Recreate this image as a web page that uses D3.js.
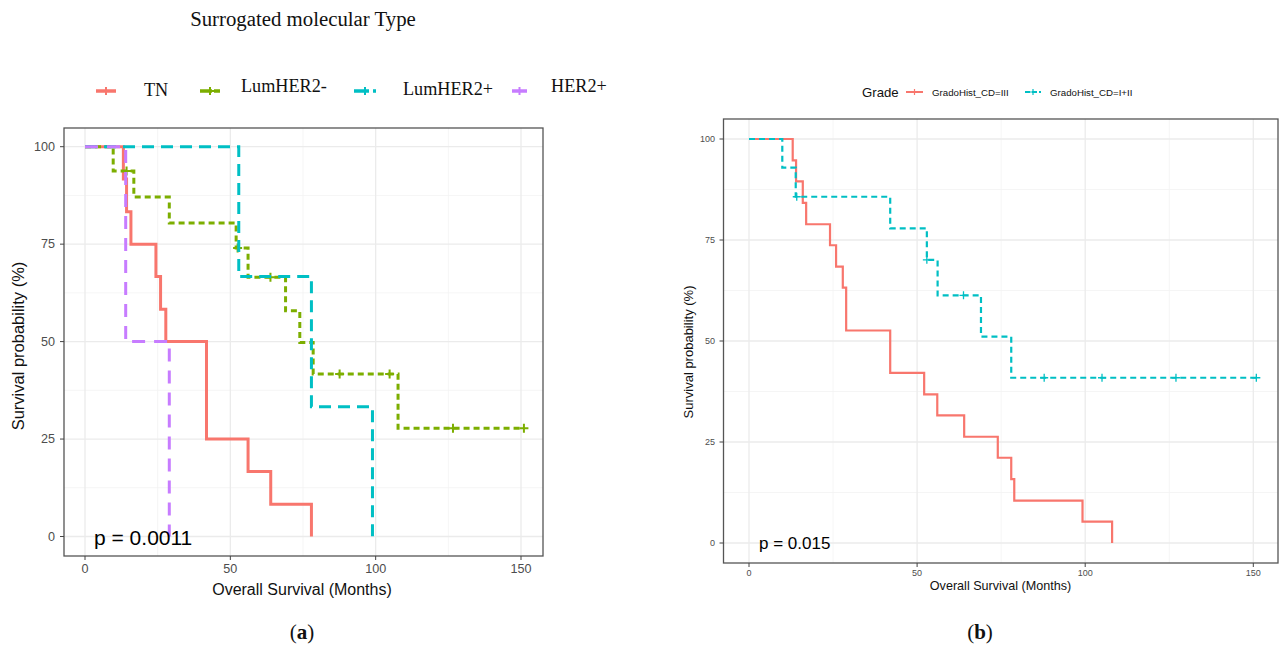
<!DOCTYPE html>
<html><head><meta charset="utf-8">
<script src="https://cdn.jsdelivr.net/npm/d3@7"></script>
<style>body{margin:0;background:#fff}svg{display:block}</style>
</head><body>
<svg id="c" width="1280" height="645"></svg>
<script>
// ---------- Panel (a) data ----------
const aGroups = ["TN", "LumHER2-", "LumHER2+", "HER2+"];
const tnTime = [0, 13.2, 14.3, 15.8, 24.4, 26.0, 27.8, 41.8, 56.1, 63.9, 77.9];
const tnSurv = [100, 91.7, 83.3, 75.0, 66.7, 58.3, 50.0, 25.0, 16.7, 8.3, 0];
const lumNegTime = [0, 9.7, 16.8, 29.0, 52.0, 56.1, 69.0, 73.9, 78.5, 107.7, 151];
const lumNegSurv = [100, 93.75, 87.1, 80.4, 74.0, 66.5, 57.9, 49.8, 41.7, 27.8, 27.8];
const lumNegCensT = [14.3, 52.5, 63.8, 87.6, 104.8, 126.6, 151];
const lumNegCensS = [93.75, 74.0, 66.5, 41.7, 41.7, 27.8, 27.8];
const lumPosTime = [0, 52.9, 77.9, 98.9];
const lumPosSurv = [100, 66.7, 33.3, 0];
const her2Time = [0, 14.0, 29.0];
const her2Surv = [100, 50, 0];
const aTicksX = [0, 50, 100, 150];
const aTicksY = [0, 25, 50, 75, 100];

// ---------- Panel (b) data ----------
const bGroups = ["GradoHist_CD=III", "GradoHist_CD=I+II"];
const g3Time = [0, 13, 14, 16, 17, 24.1, 25.9, 27.9, 28.9, 42, 52.1, 56, 64, 74, 78, 78.9, 99.2, 108];
const g3Surv = [100, 94.7, 89.5, 84.2, 78.9, 73.7, 68.4, 63.2, 52.6, 42.1, 36.8, 31.6, 26.3, 21.1, 15.8, 10.5, 5.3, 0];
const g12Time = [0, 9.9, 13.9, 42, 52.9, 56.1, 69, 78, 150.9];
const g12Surv = [100, 92.9, 85.7, 77.9, 70.1, 61.3, 51.1, 40.9, 40.9];
const g12CensT = [14.2, 52.9, 63.8, 87.8, 105, 127, 150.9];
const g12CensS = [85.7, 70.1, 61.3, 40.9, 40.9, 40.9, 40.9];
const bTicksX = [0, 50, 100, 150];
const bTicksY = [0, 25, 50, 75, 100];

const svg = d3.select("#c");
const SANS = "'Liberation Sans', Arial, sans-serif";
const SERIF = "'Liberation Serif', 'Times New Roman', serif";
const zip = (t, s) => t.map((d, i) => ({t: d, s: s[i]}));

function panel(cfg) {
  const x = d3.scaleLinear().domain([0, 150]).range(cfg.xr);
  const y = d3.scaleLinear().domain([0, 100]).range(cfg.yr);
  const g = svg.append("g");
  const [L, R, T, B] = cfg.box;
  const minorX = [25, 75, 125], minorY = [12.5, 37.5, 62.5, 87.5];
  g.selectAll(null).data(minorX).enter().append("line")
    .attr("x1", d => x(d)).attr("x2", d => x(d)).attr("y1", T).attr("y2", B)
    .attr("stroke", "#F2F2F2").attr("stroke-width", 0.8);
  g.selectAll(null).data(minorY).enter().append("line")
    .attr("y1", d => y(d)).attr("y2", d => y(d)).attr("x1", L).attr("x2", R)
    .attr("stroke", "#F2F2F2").attr("stroke-width", 0.8);
  g.selectAll(null).data(cfg.tx).enter().append("line")
    .attr("x1", d => x(d)).attr("x2", d => x(d)).attr("y1", T).attr("y2", B)
    .attr("stroke", "#EBEBEB").attr("stroke-width", 1.3);
  g.selectAll(null).data(cfg.ty).enter().append("line")
    .attr("y1", d => y(d)).attr("y2", d => y(d)).attr("x1", L).attr("x2", R)
    .attr("stroke", "#EBEBEB").attr("stroke-width", 1.3);
  const line = d3.line().x(d => x(d.t)).y(d => y(d.s)).curve(d3.curveStepAfter);
  cfg.series.forEach(sr => {
    g.append("path").attr("d", line(zip(sr.t, sr.s)))
      .attr("fill", "none").attr("stroke", sr.color).attr("stroke-width", cfg.lw)
      .attr("stroke-dasharray", sr.dash || null);
    if (sr.ct) {
      const cs = cfg.cross;
      zip(sr.ct, sr.cs).forEach(p => {
        g.append("path")
          .attr("d", `M${x(p.t) - cs},${y(p.s)}H${x(p.t) + cs}M${x(p.t)},${y(p.s) - cs}V${y(p.s) + cs}`)
          .attr("stroke", sr.color).attr("stroke-width", cfg.clw).attr("fill", "none");
      });
    }
  });
  g.append("rect").attr("x", L).attr("y", T).attr("width", R - L).attr("height", B - T)
    .attr("fill", "none").attr("stroke", "#555").attr("stroke-width", 1.3);
  g.selectAll(null).data(cfg.tx).enter().append("line")
    .attr("x1", d => x(d)).attr("x2", d => x(d)).attr("y1", B).attr("y2", B + 4)
    .attr("stroke", "#444").attr("stroke-width", 1);
  g.selectAll(null).data(cfg.ty).enter().append("line")
    .attr("y1", d => y(d)).attr("y2", d => y(d)).attr("x1", L - 4).attr("x2", L)
    .attr("stroke", "#444").attr("stroke-width", 1);
  g.selectAll(null).data(cfg.tx).enter().append("text")
    .attr("x", d => x(d)).attr("y", cfg.xly).attr("text-anchor", "middle")
    .attr("dominant-baseline", "central").attr("font-family", SANS)
    .attr("font-size", cfg.tfs).attr("fill", "#4D4D4D").text(d => d);
  g.selectAll(null).data(cfg.ty).enter().append("text")
    .attr("x", cfg.ylx).attr("y", d => y(d)).attr("text-anchor", "end")
    .attr("dominant-baseline", "central").attr("font-family", SANS)
    .attr("font-size", cfg.tfs).attr("fill", "#4D4D4D").text(d => d);
  g.append("text").attr("x", cfg.xt[0]).attr("y", cfg.xt[1]).attr("text-anchor", "middle")
    .attr("dominant-baseline", "central").attr("font-family", SANS).attr("font-size", cfg.afs)
    .attr("fill", "#111").text("Overall Survival (Months)");
  g.append("text").attr("transform", `translate(${cfg.yt[0]},${cfg.yt[1]}) rotate(-90)`)
    .attr("text-anchor", "middle").attr("dominant-baseline", "central")
    .attr("font-family", SANS).attr("font-size", cfg.yafs).attr("fill", "#111")
    .text("Survival probability (%)");
  g.append("text").attr("x", cfg.p[0]).attr("y", cfg.p[1]).attr("dominant-baseline", "central")
    .attr("font-family", SANS).attr("font-size", cfg.pfs).attr("fill", "#000").text(cfg.ptxt);
  return {x, y};
}

const colA = {"TN": "#F8766D", "LumHER2-": "#7CAE00", "LumHER2+": "#00BFC4", "HER2+": "#C77CFF"};
const dashA = {"TN": null, "LumHER2-": "6,4", "LumHER2+": "12,7", "HER2+": "13,9"};

panel({
  xr: [85, 521], yr: [536.5, 146.7], box: [64, 543, 128, 556],
  tx: aTicksX, ty: aTicksY, lw: 3, cross: 4.5, clw: 2,
  xly: 569, ylx: 55, tfs: 12.6, afs: 16, yafs: 16.5,
  xt: [302, 589], yt: [18, 346], p: [94, 537], pfs: 21, ptxt: "p = 0.0011",
  series: [
    {t: tnTime, s: tnSurv, color: colA["TN"], dash: dashA["TN"]},
    {t: lumNegTime, s: lumNegSurv, color: colA["LumHER2-"], dash: dashA["LumHER2-"], ct: lumNegCensT, cs: lumNegCensS},
    {t: lumPosTime, s: lumPosSurv, color: colA["LumHER2+"], dash: dashA["LumHER2+"]},
    {t: her2Time, s: her2Surv, color: colA["HER2+"], dash: dashA["HER2+"]}
  ]
});

const colB = {"GradoHist_CD=III": "#F8766D", "GradoHist_CD=I+II": "#00BFC4"};
panel({
  xr: [749, 1253.3], yr: [543, 139], box: [723.5, 1278, 119, 563],
  tx: bTicksX, ty: bTicksY, lw: 2.2, cross: 4, clw: 1.3,
  xly: 573, ylx: 715, tfs: 9, afs: 12.6, yafs: 13,
  xt: [1000.5, 586], yt: [688, 352], p: [759, 543], pfs: 17, ptxt: "p = 0.015",
  series: [
    {t: g3Time, s: g3Surv, color: colB["GradoHist_CD=III"], dash: null},
    {t: g12Time, s: g12Surv, color: colB["GradoHist_CD=I+II"], dash: "6,4", ct: g12CensT, cs: g12CensS}
  ]
});

// ---------- Panel (a) title & legend ----------
svg.append("text").attr("x", 303).attr("y", 18).attr("text-anchor", "middle")
  .attr("dominant-baseline", "central").attr("font-family", SERIF).attr("font-size", 20.8)
  .attr("fill", "#111").text("Surrogated molecular Type");
const legA = [
  {k: "TN", mx: [96, 116], tx: 144, ty: 90},
  {k: "LumHER2-", mx: [200, 220], tx: 241, ty: 86},
  {k: "LumHER2+", mx: [354, 376], tx: 403, ty: 89},
  {k: "HER2+", mx: [512, 527], tx: 551, ty: 86}
];
legA.forEach(l => {
  svg.append("line").attr("x1", l.mx[0]).attr("x2", l.mx[1]).attr("y1", 91).attr("y2", 91)
    .attr("stroke", colA[l.k]).attr("stroke-width", 3.5)
    .attr("stroke-dasharray", l.k === "LumHER2+" ? "15,4" : (l.k === "LumHER2-" ? "12,2" : null));
  const cx = (l.mx[0] + l.mx[1]) / 2;
  svg.append("path").attr("d", `M${cx - 4},91H${cx + 4}M${cx},87V95`)
    .attr("stroke", colA[l.k]).attr("stroke-width", 2);
  svg.append("text").attr("x", l.tx).attr("y", l.ty).attr("dominant-baseline", "central")
    .attr("font-family", SERIF).attr("font-size", 18.2).attr("fill", "#111").text(l.k);
});

// ---------- Panel (b) legend ----------
svg.append("text").attr("x", 862).attr("y", 92).attr("dominant-baseline", "central")
  .attr("font-family", SANS).attr("font-size", 13.2).attr("fill", "#111").text("Grade");
const legB = [
  {k: "GradoHist_CD=III", mx: [906, 923], tx: 932},
  {k: "GradoHist_CD=I+II", mx: [1025, 1041], tx: 1050}
];
legB.forEach((l, i) => {
  svg.append("line").attr("x1", l.mx[0]).attr("x2", l.mx[1]).attr("y1", 92).attr("y2", 92)
    .attr("stroke", colB[l.k]).attr("stroke-width", 2)
    .attr("stroke-dasharray", i === 1 ? "5,2" : null);
  const cx = (l.mx[0] + l.mx[1]) / 2;
  svg.append("path").attr("d", `M${cx - 3},92H${cx + 3}M${cx},89V95`)
    .attr("stroke", colB[l.k]).attr("stroke-width", 1.2);
  svg.append("text").attr("x", l.tx).attr("y", 92).attr("dominant-baseline", "central")
    .attr("font-family", SANS).attr("font-size", 9.7).attr("fill", "#111").text(l.k);
});

// ---------- captions ----------
[["a", 302], ["b", 980]].forEach(([c, x]) => {
  const t = svg.append("text").attr("x", x).attr("y", 632).attr("text-anchor", "middle")
    .attr("dominant-baseline", "central").attr("font-family", SERIF).attr("font-size", 21).attr("fill", "#111");
  t.append("tspan").text("(");
  t.append("tspan").attr("font-weight", "bold").text(c);
  t.append("tspan").text(")");
});
</script>
</body></html>
